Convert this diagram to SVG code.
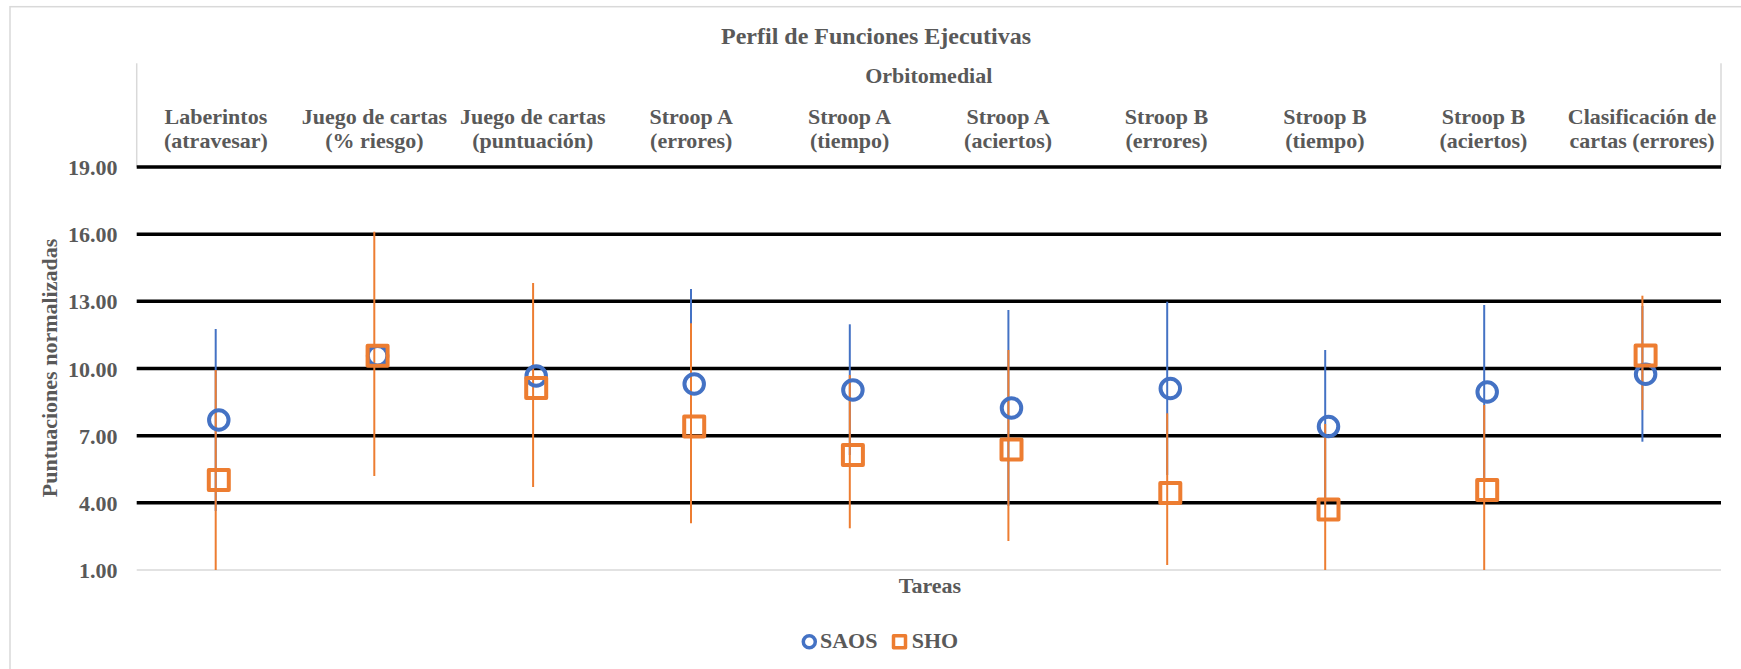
<svg xmlns="http://www.w3.org/2000/svg" width="1741" height="669" viewBox="0 0 1741 669">
  <style>
    .t { font-family: "Liberation Serif", "Times New Roman", serif; font-weight: bold; fill: #595959; }
    .title { font-size: 24px; text-anchor: middle; }
    .lbl { font-size: 22px; text-anchor: middle; }
    .tick { font-size: 22px; text-anchor: end; }
    .leg { font-size: 22px; text-anchor: start; }
    .grid { stroke: #000000; stroke-width: 3.6; }
    .axis { stroke: #D9D9D9; stroke-width: 1.5; fill: none; }
    .barB { stroke: #4472C4; stroke-width: 2; }
    .barO { stroke: #ED7D31; stroke-width: 2; }
    .saos { fill: none; stroke: #4472C4; stroke-width: 4; }
    .sho { fill: none; stroke: #ED7D31; stroke-width: 4; stroke-linejoin: round; }
  </style>

  <!-- chart frame -->
  <rect x="10" y="6.7" width="1800" height="800" fill="#FFFFFF" class="axis"/>

  <!-- titles -->
  <text class="t title" x="876" y="44.3">Perfil de Funciones Ejecutivas</text>
  <text class="t lbl" x="928.8" y="82.7">Orbitomedial</text>

  <!-- header boundaries of the category group -->
  <line class="axis" x1="136.7" y1="63.3" x2="136.7" y2="167"/>
  <line class="axis" x1="1721" y1="63.3" x2="1721" y2="167"/>

  <!-- category labels -->
  <g id="categories">
    <text class="t lbl" x="215.9" y="124">Laberintos</text>
    <text class="t lbl" x="215.9" y="148.3">(atravesar)</text>
    <text class="t lbl" x="374.4" y="124">Juego de cartas</text>
    <text class="t lbl" x="374.4" y="148.3">(% riesgo)</text>
    <text class="t lbl" x="532.8" y="124">Juego de cartas</text>
    <text class="t lbl" x="532.8" y="148.3">(puntuación)</text>
    <text class="t lbl" x="691.2" y="124">Stroop A</text>
    <text class="t lbl" x="691.2" y="148.3">(errores)</text>
    <text class="t lbl" x="849.6" y="124">Stroop A</text>
    <text class="t lbl" x="849.6" y="148.3">(tiempo)</text>
    <text class="t lbl" x="1008.1" y="124">Stroop A</text>
    <text class="t lbl" x="1008.1" y="148.3">(aciertos)</text>
    <text class="t lbl" x="1166.5" y="124">Stroop B</text>
    <text class="t lbl" x="1166.5" y="148.3">(errores)</text>
    <text class="t lbl" x="1324.9" y="124">Stroop B</text>
    <text class="t lbl" x="1324.9" y="148.3">(tiempo)</text>
    <text class="t lbl" x="1483.4" y="124">Stroop B</text>
    <text class="t lbl" x="1483.4" y="148.3">(aciertos)</text>
    <text class="t lbl" x="1642" y="124">Clasificación de</text>
    <text class="t lbl" x="1642" y="148.3">cartas (errores)</text>
  </g>

  <!-- value axis -->
  <g id="gridlines">
    <line class="grid" x1="136.7" y1="167" x2="1721" y2="167"/>
    <line class="grid" x1="136.7" y1="234.2" x2="1721" y2="234.2"/>
    <line class="grid" x1="136.7" y1="301.3" x2="1721" y2="301.3"/>
    <line class="grid" x1="136.7" y1="368.5" x2="1721" y2="368.5"/>
    <line class="grid" x1="136.7" y1="435.7" x2="1721" y2="435.7"/>
    <line class="grid" x1="136.7" y1="502.8" x2="1721" y2="502.8"/>
    <line class="axis" x1="136.7" y1="570" x2="1721" y2="570"/>
  </g>
  <g id="ticks">
    <text class="t tick" x="117.5" y="175">19.00</text>
    <text class="t tick" x="117.5" y="242.2">16.00</text>
    <text class="t tick" x="117.5" y="309.3">13.00</text>
    <text class="t tick" x="117.5" y="376.5">10.00</text>
    <text class="t tick" x="117.5" y="443.7">7.00</text>
    <text class="t tick" x="117.5" y="510.8">4.00</text>
    <text class="t tick" x="117.5" y="578">1.00</text>
  </g>
  <text class="t lbl" transform="translate(57 368) rotate(-90)">Puntuaciones normalizadas</text>
  <text class="t lbl" x="930" y="592.7">Tareas</text>

  <!-- error bars -->
  <g id="connectors">
    <g id="bars-saos">
      <line class="barB" x1="215.7" y1="329" x2="215.7" y2="511"/>
      <line class="barB" x1="691" y1="289" x2="691" y2="479"/>
      <line class="barB" x1="849.8" y1="324.3" x2="849.8" y2="455"/>
      <line class="barB" x1="1008.4" y1="310" x2="1008.4" y2="506"/>
      <line class="barB" x1="1167.2" y1="301.7" x2="1167.2" y2="475"/>
      <line class="barB" x1="1325.2" y1="350" x2="1325.2" y2="503"/>
      <line class="barB" x1="1484.2" y1="305" x2="1484.2" y2="479"/>
      <line class="barB" x1="1642.4" y1="306" x2="1642.4" y2="441.7"/>
    </g>
    <g id="bars-sho">
      <line class="barO" x1="215.7" y1="370" x2="215.7" y2="570"/>
      <line class="barO" x1="374.3" y1="231.7" x2="374.3" y2="476"/>
      <line class="barO" x1="533.1" y1="283" x2="533.1" y2="487"/>
      <line class="barO" x1="691" y1="323.3" x2="691" y2="523.3"/>
      <line class="barO" x1="849.8" y1="375" x2="849.8" y2="528.3"/>
      <line class="barO" x1="1008.4" y1="350" x2="1008.4" y2="541"/>
      <line class="barO" x1="1167.2" y1="413.3" x2="1167.2" y2="565"/>
      <line class="barO" x1="1325.2" y1="424" x2="1325.2" y2="570"/>
      <line class="barO" x1="1484.2" y1="405" x2="1484.2" y2="570"/>
      <line class="barO" x1="1642.4" y1="295.7" x2="1642.4" y2="410"/>
    </g>
  </g>

  <!-- SAOS means -->
  <g id="saos">
    <circle class="saos" cx="218.8" cy="420" r="9.75"/>
    <circle class="saos" cx="377.6" cy="355.7" r="9.75"/>
    <circle class="saos" cx="536.2" cy="376" r="9.75"/>
    <circle class="saos" cx="694.2" cy="384" r="9.75"/>
    <circle class="saos" cx="852.9" cy="390" r="9.75"/>
    <circle class="saos" cx="1011.5" cy="408" r="9.75"/>
    <circle class="saos" cx="1170.3" cy="388.5" r="9.75"/>
    <circle class="saos" cx="1328.5" cy="426.5" r="9.75"/>
    <circle class="saos" cx="1487.2" cy="392" r="9.75"/>
    <circle class="saos" cx="1645.6" cy="374.3" r="9.75"/>
  </g>

  <!-- SHO means -->
  <g id="sho">
    <rect class="sho" x="208.8" y="470" width="20" height="20"/>
    <rect class="sho" x="367.6" y="345.7" width="20" height="20"/>
    <rect class="sho" x="526.2" y="378" width="20" height="20"/>
    <rect class="sho" x="684.2" y="416.5" width="20" height="20"/>
    <rect class="sho" x="842.9" y="445" width="20" height="20"/>
    <rect class="sho" x="1001.5" y="439.5" width="20" height="20"/>
    <rect class="sho" x="1160.3" y="483" width="20" height="20"/>
    <rect class="sho" x="1318.5" y="499.5" width="20" height="20"/>
    <rect class="sho" x="1477.2" y="480" width="20" height="20"/>
    <rect class="sho" x="1635.6" y="345.5" width="20" height="20"/>
  </g>

  <!-- legend -->
  <g id="legend">
    <circle class="saos" cx="809.3" cy="641.7" r="6" style="stroke-width:3.5"/>
    <text class="t leg" x="820" y="648.3">SAOS</text>
    <rect class="sho" x="893.5" y="635.7" width="12" height="12" style="stroke-width:3.5"/>
    <text class="t leg" x="911.7" y="648.3">SHO</text>
  </g>
</svg>
